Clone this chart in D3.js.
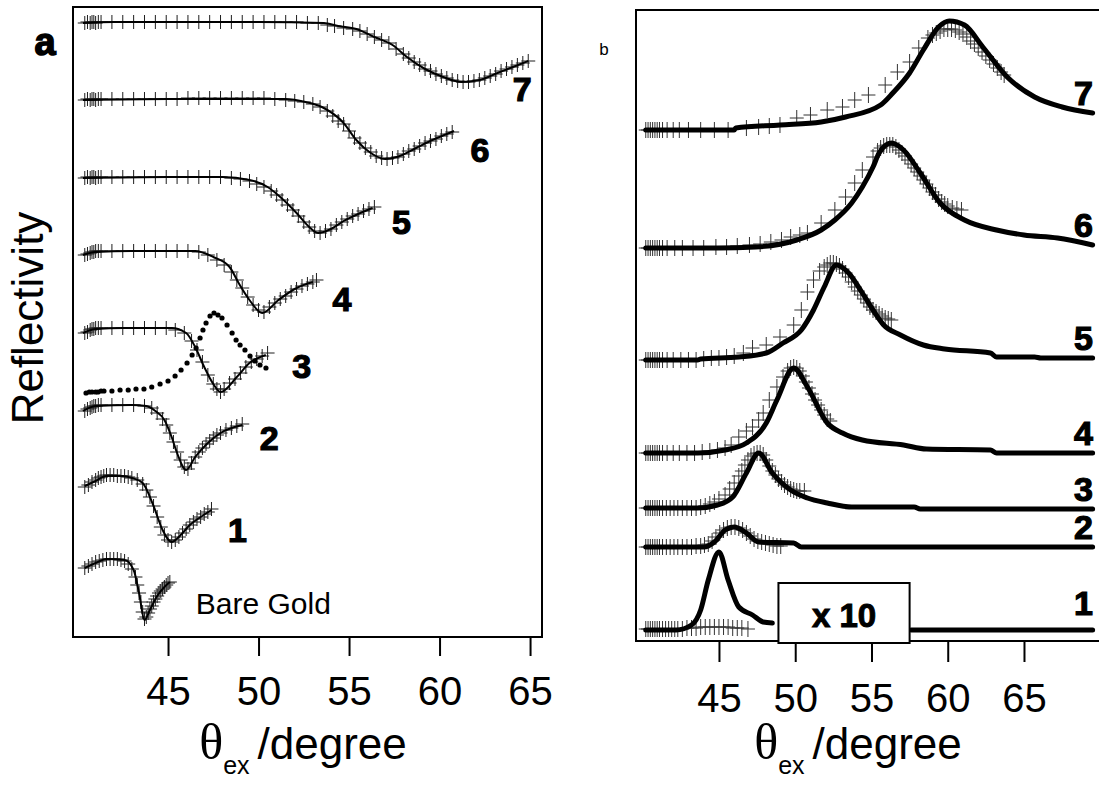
<!DOCTYPE html>
<html>
<head>
<meta charset="utf-8">
<script src="https://cdn.jsdelivr.net/npm/d3@7"></script>
<style>
body { margin: 0; background: #fff; }
</style>
</head>
<body>
<script>
// ---- data: theta (degree) vs reflectivity, arbitrary offset units ----
const tickValues = [45, 50, 55, 60, 65];
const labelsA = ["Bare Gold", "1", "2", "3", "4", "5", "6", "7"];
const labelsB = ["1", "2", "3", "4", "5", "6", "7"];
const insetText = "x 10";

// panel a: fitted lines (Bare Gold, 1..7)
const fitA = [
	[[40.4,69],[41,74],[41.6,78],[42.6,77],[43.1,67],[43.4,44],[43.7,17],[44.0,27],[44.4,41],[44.8,50],[45.1,55]],
	[[40.4,151],[41,156],[41.6,161],[42.5,161],[43.0,159],[43.6,154],[44.2,131],[44.7,107],[45.2,95],[45.7,102],[46.2,112],[46.8,120],[47.4,127]],
	[[40.3,226],[41,231],[43,232],[43.8,231],[44.3,226],[44.8,217],[45.2,200],[45.5,184],[46.0,167],[46.5,180],[47.2,194],[47.9,204],[49.1,212]],
	[[40.3,304],[41,308],[42.5,309],[45.2,309],[46,304],[46.5,290],[47,270],[47.5,253],[47.9,245],[48.8,260],[49.5,274],[50.4,282]],
	[[40.3,382],[41,385],[43,386],[46.5,386],[47.5,380],[48.4,370],[48.9,354],[49.5,337],[50.2,324],[51.1,337],[52.1,349],[53.0,355]],
	[[40.3,459],[45,460],[48,460],[49.5,457],[50.5,450],[51.2,440],[52.1,424],[52.8,410],[53.3,404],[54,408],[54.7,416],[55.5,423],[56.3,429]],
	[[40.3,537],[45,538],[51.5,538],[52.6,535],[53.5,530],[54.7,514],[55.4,497],[56.2,484],[57.0,478],[57.8,481],[58.7,489],[59.6,497],[60.4,503],[60.8,506]],
	[[40.3,614],[42,615],[46,615],[50,615],[53.6,614],[54.4,611],[55.4,608],[56.4,600],[57.4,592],[58.2,580],[59.2,568],[60.2,560],[61.2,555],[62.2,557],[63.2,564],[64.2,571],[64.9,576]]
];

// panel a: measured points (crosses)
const measA = [
	[[40.4,69],[40.6,71],[40.8,73],[41.0,75],[41.2,76],[41.4,77],[41.6,78],[41.8,78],[42.0,78],[42.2,78],[42.4,77],[42.6,76],[42.8,73],[43.0,68],[43.2,60],[43.3,52],[43.4,44],[43.5,35],[43.6,25],[43.7,18],[43.8,20],[43.9,24],[44.0,28],[44.1,31],[44.2,35],[44.3,38],[44.4,41],[44.5,44],[44.6,46],[44.7,48],[44.8,50],[44.9,52],[45.0,54],[45.1,55]],
	[[40.4,150],[40.6,152],[40.8,155],[41.0,157],[41.15,159],[41.3,160],[41.45,161],[41.6,162],[41.8,162],[42.0,162],[42.2,161],[42.4,161],[42.6,161],[42.8,160],[43.0,159],[43.3,157],[43.6,153],[43.8,147],[44.0,140],[44.2,131],[44.4,120],[44.6,110],[44.8,102],[45.0,97],[45.2,95],[45.4,97],[45.6,100],[45.8,104],[46.0,108],[46.2,112],[46.4,115],[46.6,118],[46.8,120],[47.0,123],[47.2,125],[47.4,128]],
	[[40.4,226],[40.55,228],[40.7,229],[40.8,230],[40.9,231],[41.0,231],[41.15,232],[41.3,232],[41.9,232],[42.5,232],[43.1,232],[43.7,231],[44.1,229],[44.4,224],[44.7,218],[44.9,212],[45.1,204],[45.3,195],[45.5,185],[45.7,177],[45.9,170],[46.1,168],[46.3,174],[46.5,180],[46.7,185],[46.9,189],[47.1,193],[47.3,196],[47.5,199],[47.7,202],[47.9,204],[48.2,207],[48.5,209],[48.8,211],[49.1,213]],
	[[40.4,304],[40.55,305],[40.7,307],[40.8,308],[40.9,308],[41.0,309],[41.15,309],[41.3,309],[41.9,309],[42.5,309],[43.1,309],[43.7,309],[44.3,309],[44.9,309],[45.4,307],[45.9,304],[46.3,296],[46.6,287],[46.9,275],[47.2,262],[47.5,253],[47.7,248],[47.9,245],[48.1,248],[48.4,254],[48.7,258],[49.0,264],[49.3,270],[49.6,275],[49.9,278],[50.2,281],[50.5,284]],
	[[40.4,382],[40.55,383],[40.7,384],[40.8,385],[40.9,385],[41.0,386],[41.15,386],[41.3,386],[41.9,386],[42.5,386],[43.1,386],[43.7,386],[44.3,386],[44.9,386],[45.5,386],[46.1,386],[46.7,385],[47.2,382],[47.7,377],[48.1,372],[48.5,365],[48.8,357],[49.1,349],[49.4,340],[49.7,332],[50.0,327],[50.3,325],[50.6,330],[50.9,334],[51.2,338],[51.5,341],[51.8,345],[52.1,348],[52.4,351],[52.7,353],[53.0,355],[53.2,357]],
	[[40.4,459],[40.55,460],[40.7,459],[40.8,460],[40.9,460],[41.0,459],[41.15,460],[41.3,460],[41.9,460],[42.5,460],[43.1,460],[43.7,460],[44.3,460],[44.9,460],[45.5,460],[46.1,460],[46.7,460],[47.3,460],[47.9,460],[48.5,459],[49.0,458],[49.5,456],[49.9,453],[50.3,450],[50.7,446],[51.0,442],[51.3,437],[51.6,432],[51.9,427],[52.2,421],[52.5,415],[52.8,410],[53.1,406],[53.4,404],[53.7,406],[54.0,408],[54.3,412],[54.6,415],[54.9,418],[55.2,421],[55.5,423],[55.8,426],[56.1,428],[56.4,430]],
	[[40.4,537],[40.55,538],[40.7,537],[40.8,538],[40.9,538],[41.0,537],[41.15,538],[41.3,538],[41.9,538],[42.5,538],[43.1,538],[43.7,538],[44.3,538],[44.9,538],[45.5,538],[46.1,539],[46.7,539],[47.3,539],[47.9,539],[48.5,539],[49.1,539],[49.7,539],[50.3,539],[50.9,538],[51.5,537],[52.0,536],[52.5,535],[53.0,533],[53.4,530],[53.8,526],[54.1,521],[54.4,516],[54.7,513],[55.0,506],[55.3,499],[55.6,494],[55.9,489],[56.2,485],[56.5,481],[56.8,479],[57.1,478],[57.4,479],[57.7,480],[58.0,483],[58.3,486],[58.6,488],[58.9,491],[59.2,494],[59.5,496],[59.8,498],[60.1,501],[60.4,503],[60.7,505]],
	[[40.4,614],[40.55,615],[40.7,614],[40.8,615],[40.9,615],[41.0,614],[41.15,615],[41.3,615],[41.9,615],[42.5,615],[43.1,615],[43.7,615],[44.3,615],[44.9,615],[45.5,615],[46.1,615],[46.7,615],[47.3,615],[47.9,615],[48.5,615],[49.1,615],[49.7,615],[50.3,615],[50.9,615],[51.5,615],[52.1,615],[52.7,614],[53.3,614],[53.8,612],[54.2,611],[54.7,609],[55.2,608],[55.6,606],[56.0,603],[56.4,600],[56.8,597],[57.2,594],[57.6,588],[58.0,583],[58.3,579],[58.6,575],[58.9,572],[59.2,568],[59.5,566],[59.8,563],[60.1,561],[60.4,559],[60.7,557],[61.0,556],[61.3,555],[61.6,555],[61.9,556],[62.2,557],[62.5,559],[62.8,561],[63.1,563],[63.4,566],[63.7,568],[64.0,570],[64.3,572],[64.6,574],[64.9,576]]
];

// panel a: dotted curve next to film 3
const dotsA = [[40.47,244],[40.65,245],[40.8,245],[41.0,245],[41.13,245],[41.3,246],[41.46,246],[41.9,246],[42.35,247],[42.8,247],[43.23,248],[43.67,248],[44.1,250],[44.56,253],[45.0,256],[45.39,261],[45.72,267],[46.05,274],[46.33,282],[46.55,289],[46.77,299],[46.93,307],[47.1,314],[47.32,321],[47.54,324],[47.76,322],[47.98,319],[48.26,312],[48.54,304],[48.76,297],[48.98,292],[49.25,287],[49.53,281],[49.8,276],[50.08,272],[50.41,269]];

// panel b: fitted lines (1..7); film 1 is split by the inset box
const fitB = [
	[[40.2,11],[42.2,11],[43.2,16],[43.8,31],[44.3,61],[45.0,89],[45.6,61],[46.3,34],[47.2,26],[47.9,19],[48.5,18]],
	[[40.2,94],[44.0,94],[44.7,99],[45.4,111],[46.0,114],[46.8,108],[47.6,99],[49.9,98],[50.4,94],[69.5,94]],
	[[40.2,133],[43.6,133],[44.9,136],[45.9,144],[46.8,168],[47.6,188],[48.5,168],[49.7,151],[50.8,143],[52.1,138],[53.7,134],[57.8,134],[58.2,132],[69.5,132]],
	[[40.2,188],[43.6,188],[45.4,191],[46.8,198],[48.1,218],[48.8,241],[49.9,273],[50.8,254],[52.1,218],[53.1,208],[54.4,201],[57.1,196],[58.6,192],[62.8,191],[63.2,188],[69.5,188]],
	[[40.2,281],[43.6,281],[43.8,282],[46.3,284],[48.1,288],[49.2,298],[50.4,311],[51.2,331],[51.9,354],[52.7,376],[53.5,368],[54.4,348],[55.1,331],[55.8,316],[56.9,306],[58.4,296],[59.8,292],[62.8,288],[63.2,284],[65.7,284],[66.1,283],[69.5,283]],
	[[40.2,393],[44.9,393],[47.4,394],[50.1,401],[51.7,411],[52.6,421],[53.7,438],[54.4,454],[55.1,474],[55.5,488],[56.3,498],[57.1,491],[58.2,468],[59.5,438],[61.1,421],[63.2,411],[65.0,406],[67.2,403],[69.5,396]],
	[[40.2,511],[46.0,511],[46.1,513],[49.0,516],[51.7,519],[53.3,524],[55.6,536],[56.4,548],[57.5,568],[58.4,591],[59.4,614],[60.1,620],[61.1,616],[62.3,594],[63.9,564],[65.7,544],[67.5,534],[69.5,528]]
];
const fitB1Tail = [[57.6,11],[69.5,11]];

// panel b: measured points (crosses)
const measB = [
	[[40.2,12],[40.35,12],[40.5,12],[40.65,12],[40.8,12],[40.95,12],[41.1,12],[41.3,12],[41.5,12],[41.7,12],[41.9,12],[42.1,12],[42.3,12],[42.6,12],[42.9,13],[43.2,13],[43.5,13],[43.8,14],[44.1,14],[44.4,14],[44.7,14],[45.0,14],[45.3,14],[45.6,14],[45.9,13],[46.2,13],[46.5,13],[46.9,12]],
	[[40.2,94],[40.35,94],[40.5,94],[40.65,94],[40.8,94],[40.95,94],[41.1,94],[41.3,94],[41.55,94],[41.8,94],[42.05,94],[42.3,94],[42.6,94],[42.9,94],[43.2,94],[43.5,95],[43.8,95],[44.05,96],[44.3,97],[44.55,100],[44.8,104],[45.05,108],[45.3,111],[45.55,113],[45.8,114],[46.05,114],[46.3,113],[46.55,111],[46.8,108],[47.05,105],[47.3,102],[47.55,100],[47.8,99],[48.05,98],[48.3,97],[48.55,96],[48.8,95],[49.05,95]],
	[[40.2,133],[40.35,133],[40.5,133],[40.65,133],[40.8,133],[40.95,133],[41.1,133],[41.3,133],[41.55,133],[41.8,133],[42.05,133],[42.3,133],[42.6,133],[42.9,133],[43.2,133],[43.5,133],[43.8,134],[44.1,135],[44.4,137],[44.7,139],[45.0,142],[45.4,146],[45.7,152],[46.0,158],[46.3,165],[46.5,170],[46.7,176],[46.9,181],[47.1,185],[47.3,187],[47.5,188],[47.7,188],[47.9,186],[48.1,181],[48.3,175],[48.5,170],[48.7,166],[48.9,162],[49.1,159],[49.3,156],[49.5,154],[49.7,152],[49.9,151],[50.1,150],[50.3,150],[50.6,150]],
	[[40.2,188],[40.35,188],[40.5,188],[40.65,188],[40.8,188],[40.95,188],[41.1,188],[41.3,188],[41.6,188],[42.0,188],[42.4,188],[42.9,188],[43.4,188],[43.9,189],[44.4,190],[44.9,191],[45.4,193],[45.8,196],[46.3,204],[46.8,210],[47.2,214],[47.6,221],[47.9,228],[48.3,241],[48.8,254],[49.2,264],[49.5,270],[49.7,273],[49.9,274],[50.1,273],[50.3,270],[50.5,265],[50.7,259],[50.9,253],[51.1,247],[51.3,241],[51.5,236],[51.7,231],[51.9,226],[52.1,222],[52.3,220]],
	[[40.2,281],[40.35,281],[40.5,281],[40.65,281],[40.8,281],[40.95,281],[41.1,281],[41.3,281],[41.6,281],[42.0,281],[42.5,281],[43.0,281],[43.5,281],[44.0,282],[44.5,283],[45.0,283],[45.5,284],[46.0,285],[46.6,288],[47.2,293],[48.1,296],[49.0,304],[49.9,316],[50.4,331],[50.8,349],[51.2,361],[51.6,370],[51.9,374],[52.1,376],[52.3,378],[52.5,378],[52.7,377],[52.9,375],[53.1,372],[53.3,368],[53.5,364],[53.7,359],[53.9,354],[54.1,350],[54.3,346],[54.5,342],[54.7,338],[54.9,334],[55.1,331],[55.3,329],[55.5,327],[55.7,325],[55.9,323],[56.1,322],[56.3,321]],
	[[40.2,393],[40.35,393],[40.5,393],[40.65,393],[40.8,393],[40.95,393],[41.1,393],[41.3,393],[41.6,393],[42.1,393],[42.6,393],[43.3,393],[44.0,393],[44.8,394],[45.5,394],[46.2,395],[47.0,396],[47.7,397],[48.4,399],[49.1,401],[49.7,404],[50.3,406],[50.8,408],[51.7,418],[52.6,431],[53.3,444],[53.9,458],[54.4,471],[55.1,484],[55.4,490],[55.6,493],[55.8,495],[56.0,496],[56.2,496],[56.4,496],[56.6,494],[56.8,491],[57.0,488],[57.2,485],[57.4,481],[57.6,477],[57.8,473],[58.0,469],[58.2,465],[58.4,461],[58.6,457],[58.8,453],[59.0,449],[59.2,446],[59.4,442],[59.6,439],[59.8,437],[60.0,435],[60.3,433],[60.6,432],[60.9,431]],
	[[40.2,511],[40.35,511],[40.5,511],[40.65,511],[40.8,511],[40.95,511],[41.1,511],[41.3,511],[41.6,511],[42.0,511],[42.4,511],[43.0,511],[43.8,511],[44.7,511],[45.6,511],[46.8,513],[47.6,514],[48.3,515],[49.0,516],[50.1,523],[51.0,526],[52.1,531],[53.1,534],[53.9,541],[54.8,546],[55.9,556],[56.7,569],[57.5,579],[58.1,593],[58.7,603],[59.0,606],[59.25,608],[59.5,610],[59.75,612],[60.0,612],[60.25,612],[60.5,611],[60.75,609],[61.0,607],[61.25,604],[61.5,600],[61.75,597],[62.0,593],[62.25,589],[62.5,585],[62.75,581],[63.0,577],[63.25,573],[63.5,569],[63.7,566]]
];

// ---- layout ----
const width = 1099, height = 785;
const font = "'Liberation Sans', Arial, sans-serif";
const labelOffA = [[26, 21], [26, 20], [27, 13], [36, 11], [29, 17], [29, 14], [26, 19], [-6, 28]];

const svg = d3.select("body").append("svg")
	.attr("width", width)
	.attr("height", height)
	.style("display", "block");

const xA = d3.scaleLinear().domain([39.75, 65.66]).range([73, 542]);
const yA = d3.scaleLinear().domain([0, 630]).range([637, 7]);
const xB = d3.scaleLinear().domain([39.56, 70.64]).range([636, 1110]);
const yB = d3.scaleLinear().domain([0, 631]).range([641, 10]);

const crossPath = (pts, x, y, w, h) =>
	pts.map(([t, r]) => `M${x(t) - w / 2},${y(r)}h${w}M${x(t)},${y(r) - h / 2}v${h}`).join("");

function frame(x, y) {
	svg.append("rect")
		.attr("x", x.range()[0])
		.attr("y", y.range()[1])
		.attr("width", x.range()[1] - x.range()[0])
		.attr("height", y.range()[0] - y.range()[1])
		.attr("fill", "none")
		.attr("stroke", "#000")
		.attr("stroke-width", 2);
}

function bottomAxis(x, y, tick, pad) {
	const g = svg.append("g")
		.attr("transform", `translate(0,${y.range()[0]})`)
		.call(d3.axisBottom(x).tickValues(tickValues).tickSize(tick).tickSizeOuter(0).tickPadding(pad).tickFormat(d3.format("d")))
		.attr("font-size", 40)
		.attr("font-family", font);
	g.select(".domain").remove();
	g.selectAll(".tick line").attr("stroke", "#000").attr("stroke-width", 2);
	g.selectAll(".tick text").attr("fill", "#000");
}

function axisTitle(cx) {
	const t = svg.append("text")
		.attr("x", cx)
		.attr("y", 759)
		.attr("text-anchor", "middle")
		.attr("fill", "#000");
	t.append("tspan").attr("font-family", "'Liberation Serif', 'Times New Roman', serif").attr("font-size", 50).text("θ");
	t.append("tspan").attr("font-family", font).attr("font-size", 25).attr("dy", 15).text("ex");
	t.append("tspan").attr("font-family", font).attr("font-size", 44).attr("dy", -15).attr("dx", 8).text("/degree");
}

// ---- panel a ----
frame(xA, yA);
bottomAxis(xA, yA, 19, 21);

const lineA = d3.line().x(d => xA(d[0])).y(d => yA(d[1])).curve(d3.curveMonotoneX);

svg.append("g")
	.selectAll("path")
	.data(measA)
	.join("path")
	.attr("d", d => crossPath(d, xA, yA, 14, 14))
	.attr("fill", "none")
	.attr("stroke", "#1e1e1e")
	.attr("stroke-width", 1);

svg.append("g")
	.selectAll("path")
	.data(fitA)
	.join("path")
	.attr("d", lineA)
	.attr("fill", "none")
	.attr("stroke", "#000")
	.attr("stroke-width", 2);

svg.append("g")
	.selectAll("circle")
	.data(dotsA)
	.join("circle")
	.attr("cx", d => xA(d[0]))
	.attr("cy", d => yA(d[1]))
	.attr("r", 2.6)
	.attr("fill", "#000");

svg.append("g")
	.selectAll("text")
	.data(labelsA)
	.join("text")
	.attr("x", (d, i) => xA(fitA[i][fitA[i].length - 1][0]) + labelOffA[i][0])
	.attr("y", (d, i) => yA(fitA[i][fitA[i].length - 1][1]) + labelOffA[i][1])
	.attr("dy", "0.36em")
	.attr("text-anchor", (d, i) => i === 0 ? "start" : "middle")
	.attr("font-family", font)
	.attr("font-size", (d, i) => i === 0 ? 30 : 34)
	.attr("font-weight", (d, i) => i === 0 ? "normal" : "bold")
	.attr("stroke", (d, i) => i === 0 ? "none" : "#000")
	.attr("stroke-width", 1.2)
	.attr("fill", "#000")
	.text(d => d);

svg.append("text")
	.attr("x", 45)
	.attr("y", 55)
	.attr("text-anchor", "middle")
	.attr("font-family", font)
	.attr("font-size", 38)
	.attr("font-weight", "bold")
	.attr("stroke", "#000")
	.attr("stroke-width", 1.5)
	.text("a");

svg.append("text")
	.attr("transform", "translate(43,318) rotate(-90)")
	.attr("text-anchor", "middle")
	.attr("font-family", font)
	.attr("font-size", 44)
	.text("Reflectivity");

axisTitle(303);

// ---- panel b ----
frame(xB, yB);
bottomAxis(xB, yB, 21, 22);

const lineB = d3.line().x(d => xB(d[0])).y(d => yB(d[1])).curve(d3.curveMonotoneX);

svg.append("g")
	.selectAll("path")
	.data(measB)
	.join("path")
	.attr("d", d => crossPath(d, xB, yB, 14, 16))
	.attr("fill", "none")
	.attr("stroke", "#333")
	.attr("stroke-width", 1);

svg.append("g")
	.selectAll("path")
	.data(fitB.concat([fitB1Tail]))
	.join("path")
	.attr("d", lineB)
	.attr("fill", "none")
	.attr("stroke", "#000")
	.attr("stroke-width", 5)
	.attr("stroke-linejoin", "round")
	.attr("stroke-linecap", "round");

svg.append("g")
	.selectAll("text")
	.data(labelsB)
	.join("text")
	.attr("x", 1093)
	.attr("y", (d, i) => yB(fitB[i][fitB[i].length - 1][1]) - 8)
	.attr("text-anchor", "end")
	.attr("font-family", font)
	.attr("font-size", 34)
	.attr("font-weight", "bold")
	.attr("stroke", "#000")
	.attr("stroke-width", 1.2)
	.text(d => d);

// inset "x 10" box
svg.append("rect")
	.attr("x", xB(48.9))
	.attr("y", yB(58))
	.attr("width", xB(57.5) - xB(48.9))
	.attr("height", yB(-2) - yB(58))
	.attr("fill", "#fff")
	.attr("stroke", "#000")
	.attr("stroke-width", 2);

svg.append("text")
	.attr("x", xB(53.2))
	.attr("y", yB(26))
	.attr("dy", "0.36em")
	.attr("text-anchor", "middle")
	.attr("font-family", font)
	.attr("font-size", 33)
	.attr("font-weight", "bold")
	.attr("stroke", "#000")
	.attr("stroke-width", 1)
	.text(insetText);

svg.append("text")
	.attr("x", 604)
	.attr("y", 55)
	.attr("text-anchor", "middle")
	.attr("font-family", font)
	.attr("font-size", 17)
	.text("b");

axisTitle(858);
</script>
</body>
</html>
